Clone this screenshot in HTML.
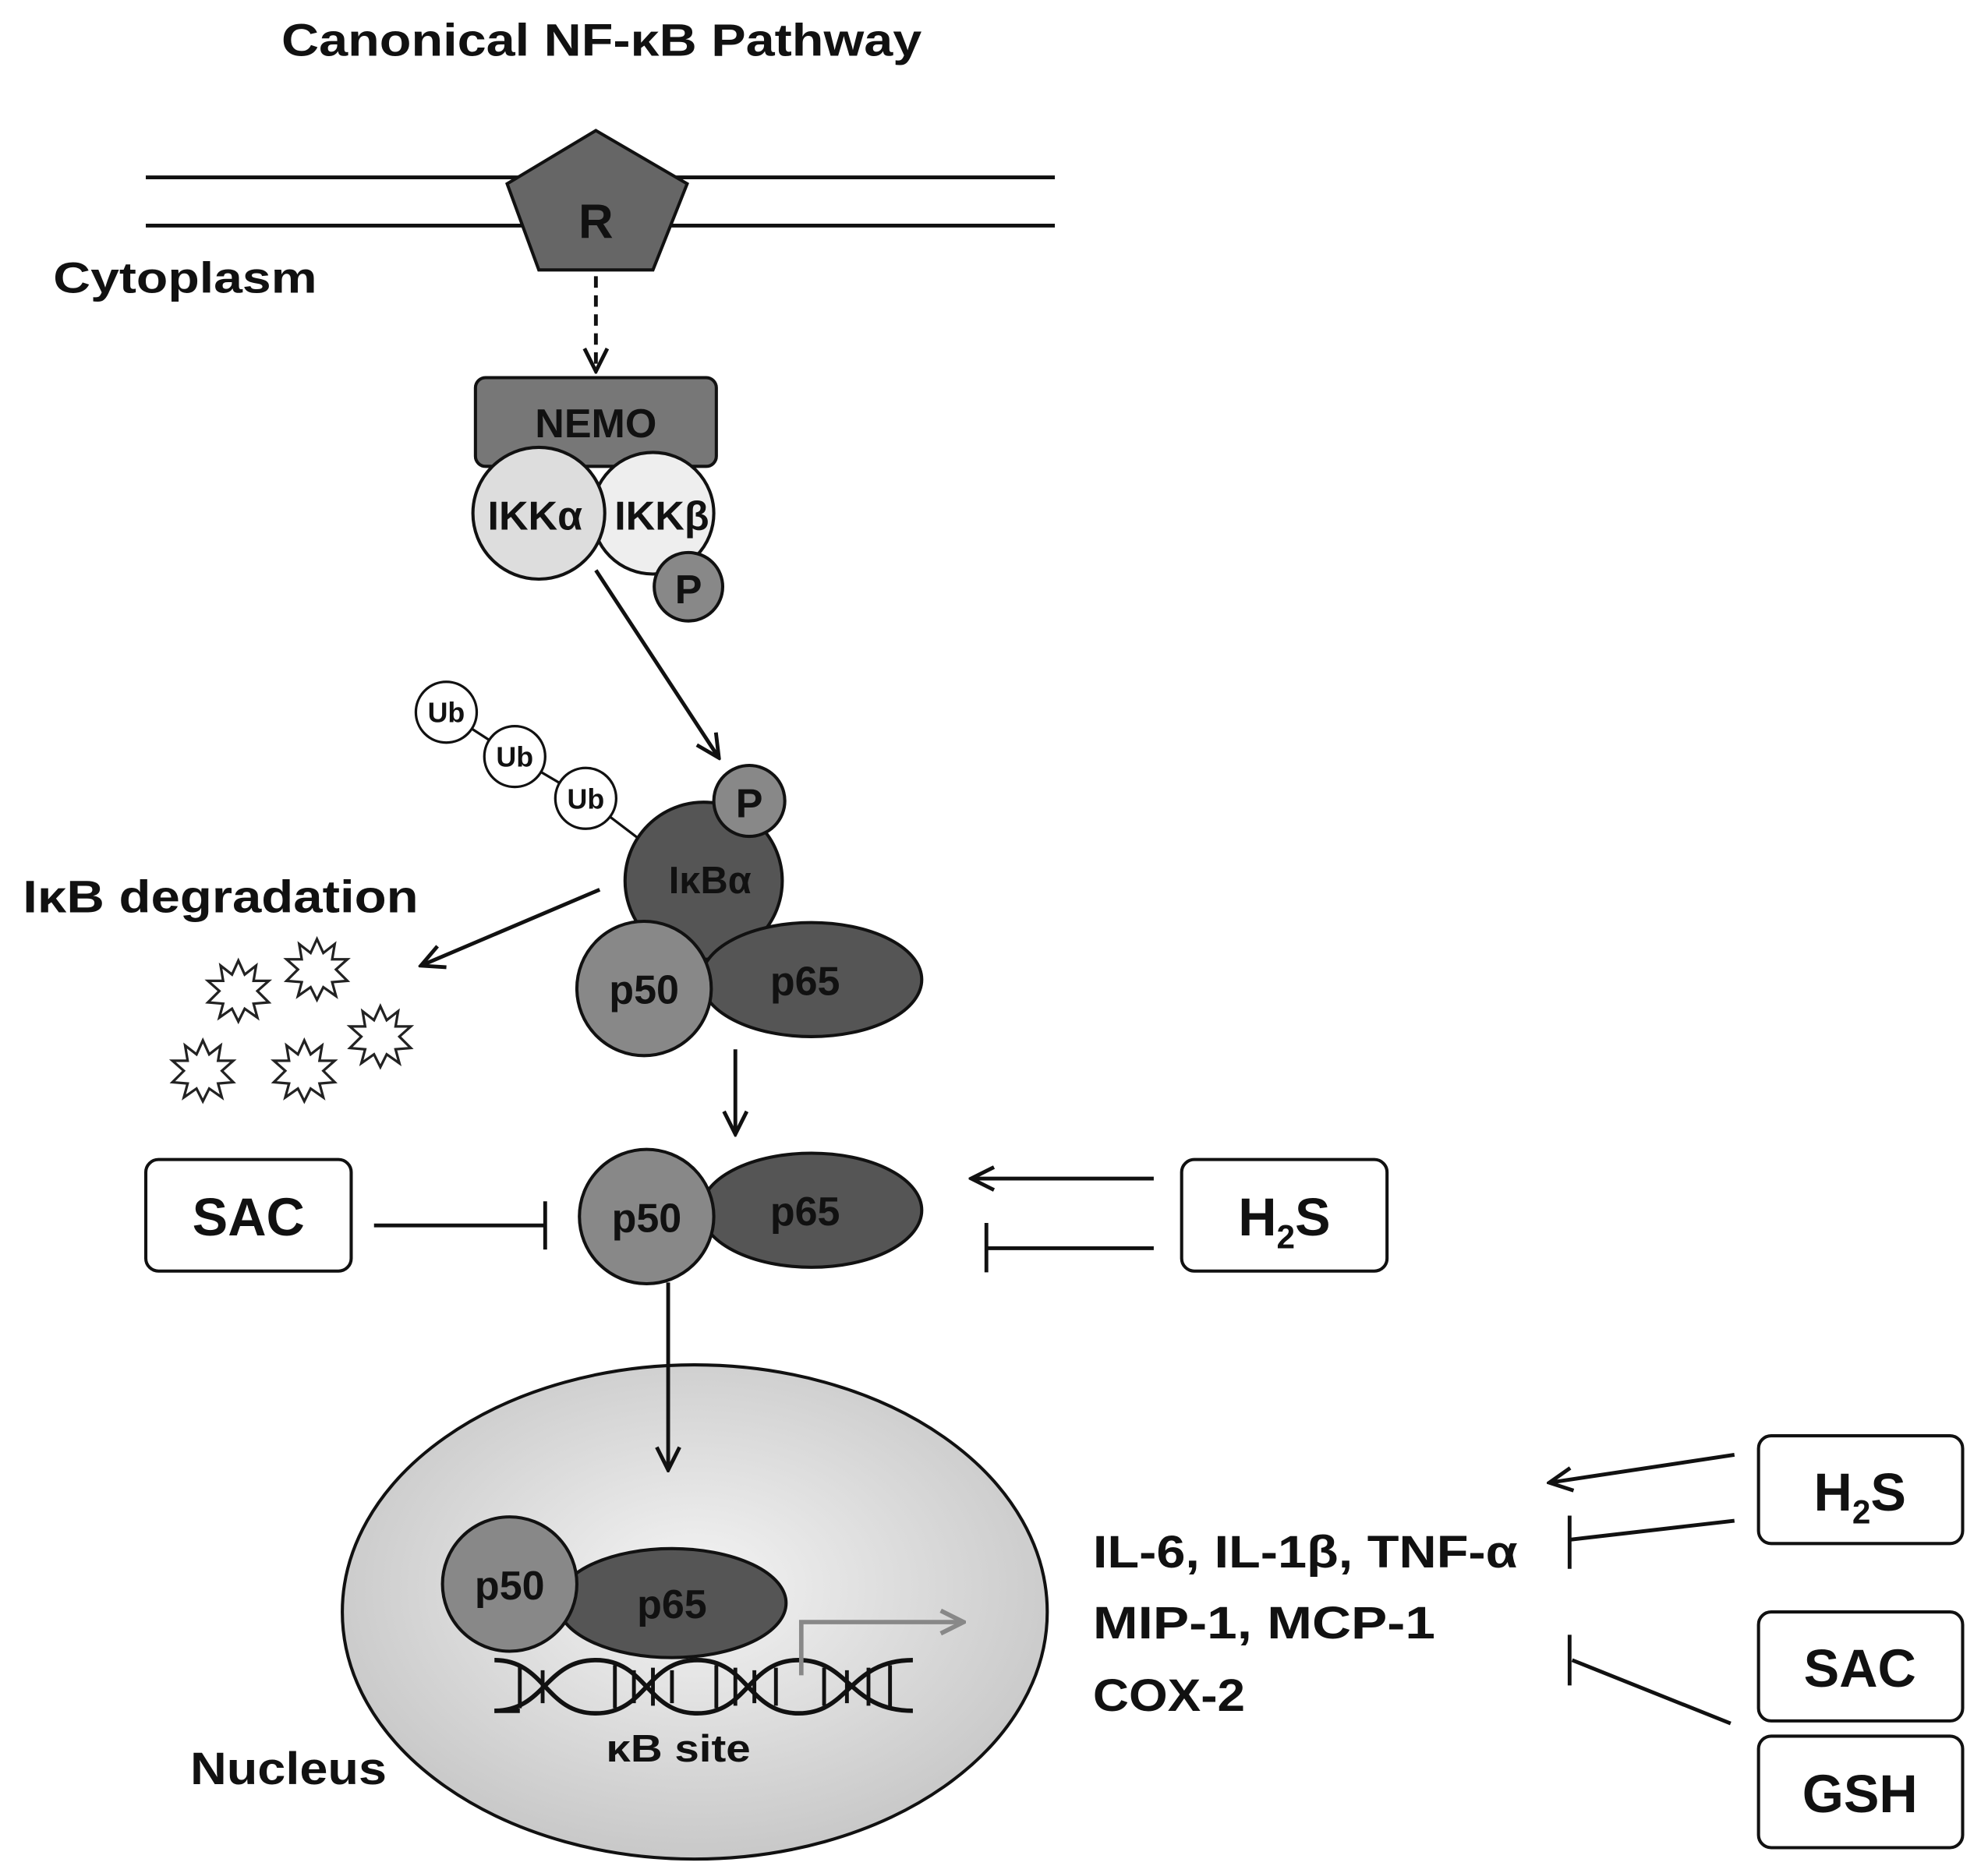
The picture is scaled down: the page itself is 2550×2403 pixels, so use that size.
<!DOCTYPE html>
<html><head><meta charset="utf-8"><style>
html,body{margin:0;padding:0;background:#fff;}
svg{display:block;}
text{font-family:"Liberation Sans",sans-serif;font-weight:bold;fill:#111;}
</style></head><body>
<svg width="2550" height="2403" viewBox="0 0 1568 1478" preserveAspectRatio="none" xmlns="http://www.w3.org/2000/svg">
<defs>
<marker id="ah2" markerWidth="22" markerHeight="22" refX="20" refY="11" orient="auto" markerUnits="userSpaceOnUse">
<path d="M2,2 L20,11 L2,20" fill="none" stroke="#111" stroke-width="3"/></marker>
<marker id="ahg" markerWidth="22" markerHeight="22" refX="20" refY="11" orient="auto" markerUnits="userSpaceOnUse">
<path d="M2,2 L20,11 L2,20" fill="none" stroke="#888" stroke-width="3.5"/></marker>
<radialGradient id="ng" cx="50%" cy="45%" r="55%"><stop offset="0" stop-color="#f4f4f4"/><stop offset="1" stop-color="#c8c8c8"/></radialGradient>
<g id="star"><polygon points="0,-24 5,-13 14,-20 12,-8 24,-8 15,0 24,9 12,10 15,21 5,14 0,24 -5,14 -15,21 -12,10 -24,9 -15,0 -24,-8 -12,-8 -14,-20 -5,-13" fill="#fff" stroke="#222" stroke-width="2"/></g>
</defs>

<text x="222" y="44" font-size="36" textLength="505" lengthAdjust="spacingAndGlyphs">Canonical NF-κB Pathway</text>
<line x1="115" y1="140" x2="832" y2="140" stroke="#111" stroke-width="3"/>
<line x1="115" y1="178" x2="832" y2="178" stroke="#111" stroke-width="3"/>
<polygon points="470,103 542,145 515,213 425,213 400,145" fill="#666" stroke="#111" stroke-width="2.5"/>
<text x="470" y="188" font-size="38" text-anchor="middle">R</text>
<text x="42" y="231" font-size="34" textLength="208" lengthAdjust="spacingAndGlyphs">Cytoplasm</text>

<line x1="470" y1="218" x2="470" y2="293" stroke="#111" stroke-width="3" stroke-dasharray="9,6" marker-end="url(#ah2)"/>

<rect x="375" y="298" width="190" height="70" rx="8" fill="#777" stroke="#111" stroke-width="2.5"/>
<text x="470" y="345" font-size="32" text-anchor="middle">NEMO</text>
<circle cx="515" cy="405" r="48" fill="#eee" stroke="#111" stroke-width="2.5"/>
<circle cx="425" cy="405" r="52" fill="#ddd" stroke="#111" stroke-width="2.5"/>
<text x="422" y="418" font-size="32" text-anchor="middle">IKKα</text>
<text x="522" y="418" font-size="32" text-anchor="middle">IKKβ</text>
<circle cx="543" cy="463" r="27" fill="#888" stroke="#111" stroke-width="2.5"/>
<text x="543" y="476" font-size="32" text-anchor="middle">P</text>

<line x1="470" y1="450" x2="567" y2="598" stroke="#111" stroke-width="3" marker-end="url(#ah2)"/>

<line x1="352" y1="562" x2="406" y2="597" stroke="#111" stroke-width="2"/>
<line x1="406" y1="597" x2="462" y2="630" stroke="#111" stroke-width="2"/>
<line x1="462" y1="630" x2="508" y2="665" stroke="#111" stroke-width="2"/>
<circle cx="352" cy="562" r="24" fill="#fff" stroke="#111" stroke-width="2"/>
<circle cx="406" cy="597" r="24" fill="#fff" stroke="#111" stroke-width="2"/>
<circle cx="462" cy="630" r="24" fill="#fff" stroke="#111" stroke-width="2"/>
<text x="352" y="570" font-size="22" text-anchor="middle">Ub</text>
<text x="406" y="605" font-size="22" text-anchor="middle">Ub</text>
<text x="462" y="638" font-size="22" text-anchor="middle">Ub</text>

<circle cx="555" cy="695" r="62" fill="#555" stroke="#111" stroke-width="2.5"/>
<text x="560" y="705" font-size="30" text-anchor="middle">IκBα</text>
<circle cx="591" cy="632" r="28" fill="#888" stroke="#111" stroke-width="2.5"/>
<text x="591" y="645" font-size="32" text-anchor="middle">P</text>
<ellipse cx="640" cy="773" rx="87" ry="45" fill="#555" stroke="#111" stroke-width="2.5"/>
<text x="635" y="785" font-size="32" text-anchor="middle">p65</text>
<circle cx="508" cy="780" r="53" fill="#888" stroke="#111" stroke-width="2.5"/>
<text x="508" y="792" font-size="32" text-anchor="middle">p50</text>

<text x="18" y="720" font-size="36" textLength="312" lengthAdjust="spacingAndGlyphs">IκB degradation</text>
<line x1="473" y1="702" x2="332" y2="762" stroke="#111" stroke-width="3" marker-end="url(#ah2)"/>
<use href="#star" x="188" y="782"/>
<use href="#star" x="250" y="765"/>
<use href="#star" x="160" y="845"/>
<use href="#star" x="240" y="845"/>
<use href="#star" x="300" y="818"/>

<line x1="580" y1="828" x2="580" y2="895" stroke="#111" stroke-width="3" marker-end="url(#ah2)"/>

<ellipse cx="640" cy="955" rx="87" ry="45" fill="#555" stroke="#111" stroke-width="2.5"/>
<text x="635" y="967" font-size="32" text-anchor="middle">p65</text>
<circle cx="510" cy="960" r="53" fill="#888" stroke="#111" stroke-width="2.5"/>
<text x="510" y="972" font-size="32" text-anchor="middle">p50</text>

<rect x="115" y="915" width="162" height="88" rx="10" fill="#fff" stroke="#111" stroke-width="2.5"/>
<text x="196" y="975" font-size="42" text-anchor="middle">SAC</text>
<line x1="295" y1="967" x2="430" y2="967" stroke="#111" stroke-width="3"/>
<line x1="430" y1="948" x2="430" y2="986" stroke="#111" stroke-width="3"/>

<rect x="932" y="915" width="162" height="88" rx="10" fill="#fff" stroke="#111" stroke-width="2.5"/>
<text x="1013" y="975" font-size="42" text-anchor="middle">H<tspan font-size="26" dy="10">2</tspan><tspan dy="-10">S</tspan></text>
<line x1="910" y1="930" x2="766" y2="930" stroke="#111" stroke-width="3" marker-end="url(#ah2)"/>
<line x1="910" y1="985" x2="778" y2="985" stroke="#111" stroke-width="3"/>
<line x1="778" y1="965" x2="778" y2="1004" stroke="#111" stroke-width="3"/>

<ellipse cx="548" cy="1272" rx="278" ry="195" fill="url(#ng)" stroke="#111" stroke-width="2.5"/>
<line x1="527" y1="1012" x2="527" y2="1160" stroke="#111" stroke-width="3" marker-end="url(#ah2)"/>

<g stroke="#111" stroke-width="3.5" fill="none">
<path d="M390,1350 C430,1350 430,1310 470,1310 C510,1310 510,1352 550,1352 C590,1352 590,1310 630,1310 C670,1310 670,1350 720,1350"/>
<path d="M390,1350 L410,1350 M390,1310 C430,1310 430,1352 470,1352 C510,1352 510,1310 550,1310 C590,1310 590,1352 630,1352 C670,1352 670,1310 720,1310"/>
<g stroke-width="3">
<line x1="410" y1="1314" x2="410" y2="1348"/><line x1="428" y1="1318" x2="428" y2="1344"/>
<line x1="485" y1="1314" x2="485" y2="1348"/><line x1="500" y1="1318" x2="500" y2="1344"/>
<line x1="515" y1="1316" x2="515" y2="1346"/><line x1="530" y1="1318" x2="530" y2="1344"/>
<line x1="565" y1="1314" x2="565" y2="1348"/><line x1="580" y1="1316" x2="580" y2="1346"/>
<line x1="595" y1="1318" x2="595" y2="1344"/><line x1="612" y1="1316" x2="612" y2="1346"/>
<line x1="650" y1="1316" x2="650" y2="1346"/><line x1="668" y1="1318" x2="668" y2="1344"/>
<line x1="685" y1="1316" x2="685" y2="1346"/><line x1="702" y1="1314" x2="702" y2="1348"/>
</g></g>
<polyline points="632,1322 632,1280 760,1280" fill="none" stroke="#888" stroke-width="3.5" marker-end="url(#ahg)"/>

<ellipse cx="530" cy="1265" rx="90" ry="43" fill="#555" stroke="#111" stroke-width="2.5"/>
<text x="530" y="1277" font-size="32" text-anchor="middle">p65</text>
<circle cx="402" cy="1250" r="53" fill="#888" stroke="#111" stroke-width="2.5"/>
<text x="402" y="1262" font-size="32" text-anchor="middle">p50</text>
<text x="478" y="1390" font-size="30" textLength="114" lengthAdjust="spacingAndGlyphs">κB site</text>
<text x="150" y="1408" font-size="36" textLength="155" lengthAdjust="spacingAndGlyphs">Nucleus</text>

<text x="862" y="1237" font-size="36" textLength="335" lengthAdjust="spacingAndGlyphs">IL-6, IL-1β, TNF-α</text>
<text x="862" y="1293" font-size="36" textLength="270" lengthAdjust="spacingAndGlyphs">MIP-1, MCP-1</text>
<text x="862" y="1350" font-size="36" textLength="120" lengthAdjust="spacingAndGlyphs">COX-2</text>

<rect x="1387" y="1133" width="161" height="85" rx="10" fill="#fff" stroke="#111" stroke-width="2.5"/>
<text x="1467" y="1192" font-size="42" text-anchor="middle">H<tspan font-size="26" dy="10">2</tspan><tspan dy="-10">S</tspan></text>
<line x1="1368" y1="1148" x2="1222" y2="1170" stroke="#111" stroke-width="3" marker-end="url(#ah2)"/>
<line x1="1368" y1="1200" x2="1238" y2="1215" stroke="#111" stroke-width="3"/>
<line x1="1238" y1="1196" x2="1238" y2="1238" stroke="#111" stroke-width="3"/>

<rect x="1387" y="1272" width="161" height="86" rx="10" fill="#fff" stroke="#111" stroke-width="2.5"/>
<text x="1467" y="1331" font-size="42" text-anchor="middle">SAC</text>
<rect x="1387" y="1370" width="161" height="88" rx="10" fill="#fff" stroke="#111" stroke-width="2.5"/>
<text x="1467" y="1430" font-size="42" text-anchor="middle">GSH</text>
<line x1="1365" y1="1360" x2="1240" y2="1310" stroke="#111" stroke-width="3"/>
<line x1="1238" y1="1290" x2="1238" y2="1330" stroke="#111" stroke-width="3"/>
</svg>
</body></html>
